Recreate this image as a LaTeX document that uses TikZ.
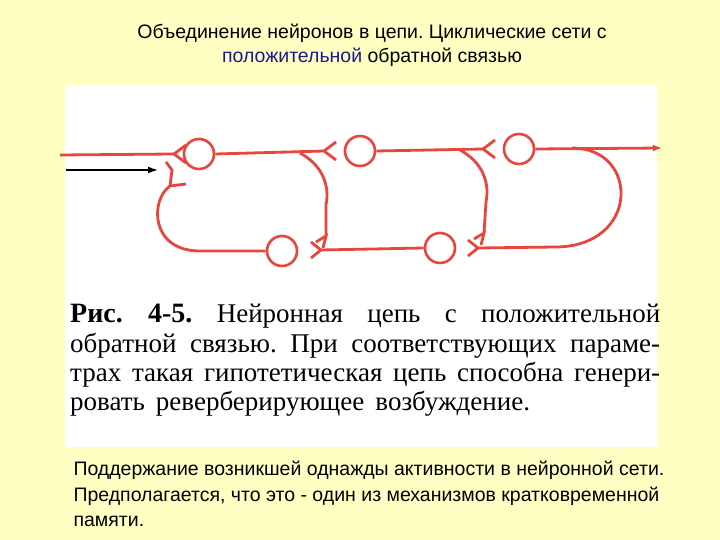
\documentclass[tikz,border=0pt]{standalone}
\usepackage{fontspec}
\setmainfont{Liberation Sans}
\newfontfamily\capfont{Liberation Serif}
\usetikzlibrary{arrows.meta}
\definecolor{bg}{HTML}{FFFFC4}
\definecolor{nr}{HTML}{E8453C}
\definecolor{tb}{HTML}{1A1A8C}
\frenchspacing
\begin{document}
\begin{tikzpicture}[x=1pt,y=-1pt,
 nl/.style={draw=nr,line width=2.8pt},
 cell/.style={circle,draw=nr,line width=2.6pt,minimum size=30pt,inner sep=0pt},
 capline/.style={anchor=north west,text width=590pt,align=justify,inner sep=0pt,font=\capfont\fontsize{27}{29}\selectfont\frenchspacing},
 sans/.style={font=\fontsize{19.5}{22}\selectfont}]
\fill[bg] (0,0) rectangle (720,540);
\useasboundingbox (0,0) rectangle (720,540);
\fill[white] (65,85) rectangle (657,447);
\node[sans] (t1) at (372,33) {Объединение нейронов в цепи. Циклические сети с};
\node[sans] (t2) at (372,57) {\textcolor{tb}{положительной} обратной связью};
% neurons
\node[cell] (c1) at (199,154) {};
\node[cell] (c2) at (360,151) {};
\node[cell] (c3) at (519,149) {};
\node[cell] (b1) at (282,251) {};
\node[cell] (b2) at (440,248) {};
\coordinate (in) at (60,155);
\coordinate (s1) at (174,154);
\coordinate (s2) at (324,151);
\coordinate (s3) at (483,149);
\coordinate (out) at (662,148);
% top line
\draw[nl] (in) -- (s1);
\draw[nl] (c1.east) -- (s2);
\draw[nl] (c2.east) -- (s3);
\draw[nl,-{Latex[length=9pt,width=7pt]}] (c3.east) -- (out);
% top synapses "<"
\foreach \s in {s1,s2,s3}{
 \draw[nl] ([shift={(12,-9)}]\s) -- (\s) -- ([shift={(12,9)}]\s);}
% loop A
\coordinate (la) at (326,236);
\draw[nl] (300,153) .. controls (322,165) and (330,185) .. (326,205) -- (la);
\draw[nl] ([shift={(-10,6)}]la) -- (la) -- ([shift={(-3,12)}]la);
% loop B
\coordinate (lb) at (484,233);
\draw[nl] (460,150) .. controls (482,162) and (490,182) .. (486,202) -- (lb);
\draw[nl] ([shift={(-10,6)}]lb) -- (lb) -- ([shift={(-3,12)}]lb);
% bottom synapses ">"
\coordinate (bs1) at (321,250);
\coordinate (bs2) at (478,248);
\foreach \s in {bs1,bs2}{
 \draw[nl] ([shift={(-10,-8)}]\s) -- (\s) -- ([shift={(-10,8)}]\s);}
\draw[nl] (bs1) -- (b2.west);
\draw[nl] (bs2) -- (555,247) .. controls (640,247) and (640,148) .. (572,148);
% left loop
\coordinate (ls) at (170,186);
\draw[nl] (b1.west) -- (200,251) .. controls (150,251) and (150,200) .. (ls);
\draw[nl] (ls) -- (186,184);
\draw[nl] (ls) -- (172,170) -- (166,162);
% black input arrow
\draw[line width=1.4pt,-{Latex[length=10pt,width=7pt]}] (66,170) -- (158,170);
% caption
\node[capline] (p1) at (70,304) {\parfillskip=0pt {\bfseries\fontsize{28}{29}\selectfont Рис.~4-5.} Нейронная цепь с положительной\par};
\node[capline] (p2) at (70,333) {\parfillskip=0pt обратной связью. При соответствующих параме-\par};
\node[capline] (p3) at (70,362) {\parfillskip=0pt трах такая гипотетическая цепь способна генери-\par};
\node[capline] (p4) at (70,391) {\spaceskip=11pt ровать реверберирующее возбуждение.\par};
% bottom text
\node[anchor=west,sans] (u1) at (70,470) {Поддержание возникшей однажды активности в нейронной сети.};
\node[anchor=west,sans] (u2) at (70,496) {Предполагается, что это - один из механизмов кратковременной};
\node[anchor=west,sans] (u3) at (70,521) {памяти.};
\end{tikzpicture}
\end{document}
